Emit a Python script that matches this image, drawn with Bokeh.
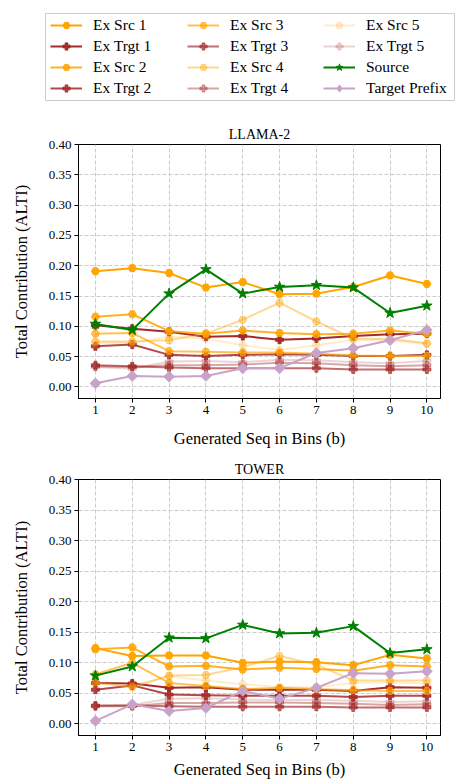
from bokeh.plotting import figure
from bokeh.layouts import column
from bokeh.models import (Range1d, FixedTicker, NumeralTickFormatter, Legend,
                          LegendItem, Title, ColumnDataSource)
from bokeh.embed import file_html
from bokeh.resources import INLINE

# ---------------- data ----------------
bins = [1, 2, 3, 4, 5, 6, 7, 8, 9, 10]
y_ticks = [0.0, 0.05, 0.10, 0.15, 0.20, 0.25, 0.30, 0.35, 0.40]

series_names = ["Ex Src 1", "Ex Trgt 1", "Ex Src 2", "Ex Trgt 2",
                "Ex Src 3", "Ex Trgt 3", "Ex Src 4", "Ex Trgt 4",
                "Ex Src 5", "Ex Trgt 5", "Source", "Target Prefix"]

llama_src1 = [0.191, 0.196, 0.188, 0.164, 0.173, 0.153, 0.154, 0.165, 0.184, 0.170]
llama_trgt1 = [0.102, 0.096, 0.091, 0.083, 0.084, 0.078, 0.080, 0.084, 0.087, 0.088]
llama_src2 = [0.116, 0.120, 0.092, 0.088, 0.093, 0.089, 0.087, 0.088, 0.093, 0.088]
llama_trgt2 = [0.067, 0.070, 0.053, 0.051, 0.053, 0.054, 0.053, 0.051, 0.051, 0.053]
llama_src3 = [0.088, 0.089, 0.059, 0.058, 0.057, 0.057, 0.055, 0.052, 0.051, 0.051]
llama_trgt3 = [0.036, 0.034, 0.032, 0.031, 0.031, 0.031, 0.031, 0.029, 0.029, 0.029]
llama_src4 = [0.075, 0.075, 0.077, 0.088, 0.111, 0.139, 0.108, 0.080, 0.079, 0.072]
llama_trgt4 = [0.034, 0.033, 0.036, 0.036, 0.037, 0.040, 0.039, 0.036, 0.034, 0.036]
llama_src5 = [0.073, 0.073, 0.083, 0.080, 0.069, 0.061, 0.069, 0.078, 0.077, 0.071]
llama_trgt5 = [0.033, 0.030, 0.042, 0.043, 0.041, 0.045, 0.044, 0.041, 0.039, 0.043]
llama_source = [0.104, 0.094, 0.154, 0.194, 0.154, 0.165, 0.168, 0.164, 0.122, 0.134]
llama_prefix = [0.006, 0.018, 0.017, 0.018, 0.031, 0.031, 0.056, 0.064, 0.077, 0.094]

tower_src1 = [0.124, 0.111, 0.112, 0.112, 0.100, 0.102, 0.101, 0.096, 0.113, 0.107]
tower_trgt1 = [0.067, 0.066, 0.059, 0.060, 0.056, 0.056, 0.056, 0.054, 0.060, 0.059]
tower_src2 = [0.122, 0.125, 0.094, 0.095, 0.089, 0.092, 0.090, 0.087, 0.096, 0.094]
tower_trgt2 = [0.056, 0.063, 0.048, 0.047, 0.046, 0.046, 0.046, 0.044, 0.046, 0.046]
tower_src3 = [0.081, 0.100, 0.067, 0.062, 0.057, 0.059, 0.057, 0.055, 0.054, 0.054]
tower_trgt3 = [0.030, 0.030, 0.029, 0.028, 0.028, 0.028, 0.028, 0.027, 0.027, 0.027]
tower_src4 = [0.068, 0.060, 0.079, 0.080, 0.093, 0.111, 0.097, 0.071, 0.071, 0.071]
tower_trgt4 = [0.029, 0.029, 0.034, 0.034, 0.035, 0.035, 0.034, 0.033, 0.031, 0.032]
tower_src5 = [0.066, 0.062, 0.078, 0.071, 0.065, 0.060, 0.060, 0.067, 0.068, 0.066]
tower_trgt5 = [0.029, 0.031, 0.041, 0.042, 0.040, 0.039, 0.039, 0.038, 0.036, 0.037]
tower_source = [0.079, 0.094, 0.141, 0.140, 0.162, 0.148, 0.149, 0.160, 0.116, 0.122]
tower_prefix = [0.005, 0.032, 0.021, 0.026, 0.054, 0.041, 0.059, 0.083, 0.082, 0.086]

llama_series = [llama_src1, llama_trgt1, llama_src2, llama_trgt2, llama_src3, llama_trgt3,
                llama_src4, llama_trgt4, llama_src5, llama_trgt5, llama_source, llama_prefix]
tower_series = [tower_src1, tower_trgt1, tower_src2, tower_trgt2, tower_src3, tower_trgt3,
                tower_src4, tower_trgt4, tower_src5, tower_trgt5, tower_source, tower_prefix]

# ---------------- styles ----------------
ORANGE = "#FFA500"
BROWN = "#A52A2A"
GREEN = "#008000"
LILAC = "#C8A2C8"
FONT = "Liberation Serif"
alphas = [1.0, 0.85, 0.68, 0.42, 0.2]

styles = []
for i in range(5):
    styles.append((ORANGE, alphas[i], "hex", 8, 0.0))
    styles.append((BROWN, alphas[i], "plus", 8, 0.0))
styles.append((GREEN, 1.0, "star", 11, 0.0))
styles.append((LILAC, 1.0, "square", 7.5, 0.7854))

# legend swatches: same styles, but the diamond is drawn with the diamond marker
legend_styles = list(styles)
legend_styles[11] = (LILAC, 1.0, "diamond", 12, 0.0)


def add_series(p, xs, ys, style):
    color, alpha, marker, size, angle = style
    src = ColumnDataSource(dict(x=xs, y=ys))
    r1 = p.line("x", "y", source=src, line_color=color, line_alpha=alpha, line_width=2)
    r2 = p.scatter("x", "y", source=src, marker=marker, size=size, angle=angle,
                   fill_color=color, fill_alpha=alpha, line_color=color, line_alpha=alpha)
    return [r1, r2]


# ---------------- legend figure (frame = legend box) ----------------
leg = figure(width=456, height=101, x_range=Range1d(100, 101), y_range=Range1d(0, 1),
             x_axis_type=None, y_axis_type=None, min_border_left=45, min_border_right=2,
             min_border_top=13, min_border_bottom=0, output_backend="svg",
             toolbar_location=None, title_location=None)
try:
    leg.frame_align = False
except Exception:
    pass
leg.outline_line_color = "#cccccc"
leg.outline_line_width = 1
leg.xgrid.visible = False
leg.ygrid.visible = False

col_x = [5, 142, 278]
for c in range(3):
    items = []
    for k in range(4 * c, 4 * c + 4):
        rs = add_series(leg, bins, llama_series[k], legend_styles[k])
        items.append(LegendItem(label=series_names[k], renderers=rs))
    lg = Legend(items=items, location=(col_x[c], 4), orientation="vertical",
                border_line_color=None, background_fill_alpha=0, padding=0, margin=0,
                spacing=3, glyph_width=32, glyph_height=18, label_height=18,
                label_standoff=11, label_text_font=FONT, label_text_font_size="15.5px",
                label_text_color="black")
    leg.add_layout(lg)


# ---------------- chart panels ----------------
def make_panel(series, height, top, bottom, title_text, xlabel_standoff):
    p = figure(width=456, height=height, x_range=Range1d(0.54, 10.37),
               y_range=Range1d(-0.019, 0.40), min_border_left=78, min_border_right=16,
               min_border_top=top, min_border_bottom=bottom, output_backend="svg",
               toolbar_location=None, title_location=None)
    for ys, st in zip(series, styles):
        add_series(p, bins, ys, st)
    p.xaxis.ticker = FixedTicker(ticks=bins)
    p.yaxis.ticker = FixedTicker(ticks=y_ticks)
    p.yaxis.formatter = NumeralTickFormatter(format="0.00")
    p.xaxis.axis_label = "Generated Seq in Bins (b)"
    p.yaxis.axis_label = "Total Contribution (ALTI)"
    for ax in (p.xaxis, p.yaxis):
        ax.axis_label_text_font = FONT
        ax.axis_label_text_font_style = "normal"
        ax.axis_label_text_font_size = "16.5px"
        ax.axis_label_text_color = "black"
        ax.major_label_text_font = FONT
        ax.major_label_text_font_size = "13px"
        ax.major_label_text_color = "black"
        ax.major_tick_in = 0
        ax.major_tick_out = 4
        ax.major_tick_line_color = "black"
        ax.minor_tick_line_color = None
        ax.axis_line_color = "black"
        ax.major_label_standoff = 3
    p.xaxis.axis_label_standoff = xlabel_standoff
    p.yaxis.axis_label_standoff = 15
    p.grid.grid_line_color = "#cccccc"
    p.grid.grid_line_dash = "4 2"
    p.grid.grid_line_width = 1
    p.outline_line_color = "black"
    p.outline_line_width = 1
    p.outline_line_alpha = 1
    p.add_layout(Title(text=title_text, align="center", text_font=FONT,
                       text_font_size="14px", text_font_style="normal",
                       text_color="black", standoff=6, offset=3), "above")
    return p


p1 = make_panel(llama_series, 351, 43, 54, "LLAMA-2", 12)
p2 = make_panel(tower_series, 330, 27, 47, "TOWER", 6)

layout = column(leg, p1, p2, spacing=0)
open("out.html", "w").write(file_html(layout, INLINE))
